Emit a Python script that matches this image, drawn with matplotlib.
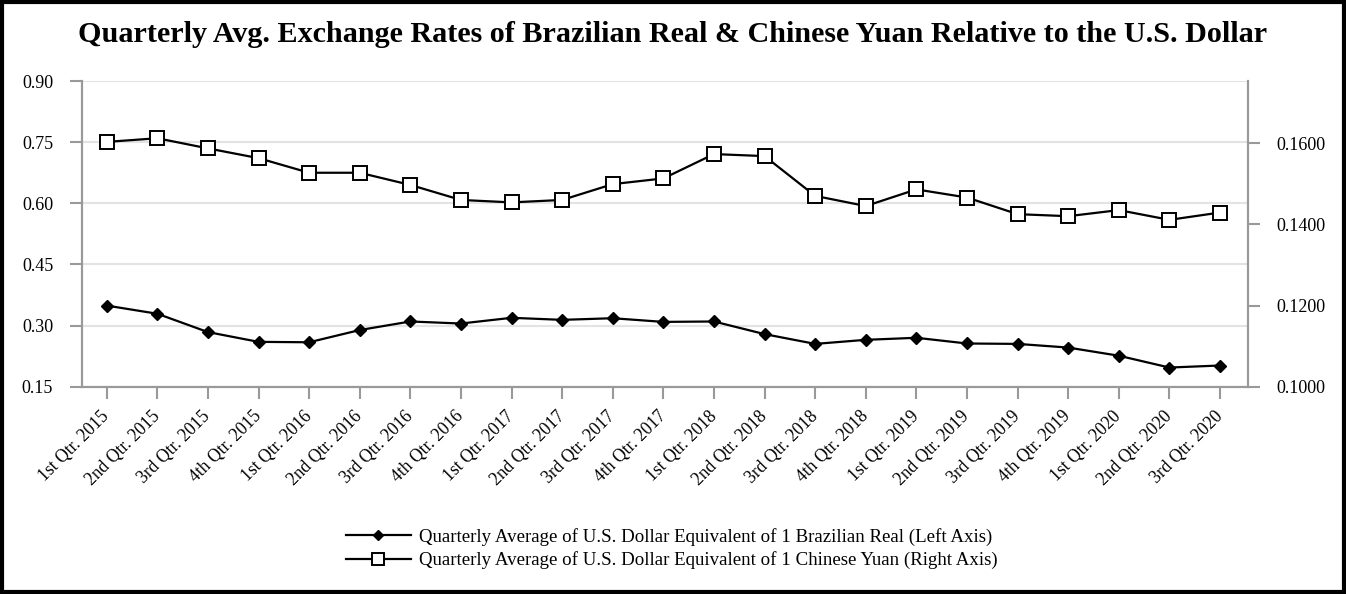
import matplotlib
matplotlib.use("Agg")
import matplotlib.pyplot as plt
from matplotlib.patches import Rectangle

quarters = ["1st Qtr. 2015", "2nd Qtr. 2015", "3rd Qtr. 2015", "4th Qtr. 2015",
            "1st Qtr. 2016", "2nd Qtr. 2016", "3rd Qtr. 2016", "4th Qtr. 2016",
            "1st Qtr. 2017", "2nd Qtr. 2017", "3rd Qtr. 2017", "4th Qtr. 2017",
            "1st Qtr. 2018", "2nd Qtr. 2018", "3rd Qtr. 2018", "4th Qtr. 2018",
            "1st Qtr. 2019", "2nd Qtr. 2019", "3rd Qtr. 2019", "4th Qtr. 2019",
            "1st Qtr. 2020", "2nd Qtr. 2020", "3rd Qtr. 2020"]
brl = [0.349, 0.329, 0.284, 0.260, 0.259, 0.289, 0.310, 0.305, 0.319, 0.314, 0.318, 0.309,
       0.310, 0.279, 0.255, 0.265, 0.270, 0.256, 0.255, 0.246, 0.226, 0.197, 0.202]
cny = [0.1603, 0.1612, 0.1587, 0.1563, 0.1527, 0.1527, 0.1497, 0.1460, 0.1454, 0.1460, 0.1499, 0.1513,
       0.1573, 0.1568, 0.1470, 0.1445, 0.1486, 0.1466, 0.1425, 0.1420, 0.1435, 0.1411, 0.1429]
left_ticks = [0.15, 0.30, 0.45, 0.60, 0.75, 0.90]
right_ticks = [0.10, 0.12, 0.14, 0.16]

title = "Quarterly Avg. Exchange Rates of Brazilian Real & Chinese Yuan Relative to the U.S. Dollar"
label_brl = "Quarterly Average of U.S. Dollar Equivalent of 1 Brazilian Real (Left Axis)"
label_cny = "Quarterly Average of U.S. Dollar Equivalent of 1 Chinese Yuan (Right Axis)"

plt.rcParams['font.family'] = ['Liberation Serif', 'DejaVu Serif']

W, H = 1346, 594
fig = plt.figure(figsize=(W / 100, H / 100), dpi=100)
ax = fig.add_axes([81.7 / W, 1 - 386.7 / H, (1247.7 - 81.7) / W, (386.7 - 81) / H])
ax2 = ax.twinx()

x = list(range(len(quarters)))
l1, = ax.plot(x, brl, color='black', lw=1.6, marker='D', markersize=6.5,
              markerfacecolor='black', markeredgecolor='black', label=label_brl)
l2, = ax2.plot(x, cny, color='black', lw=1.6, marker='s', markersize=10.5,
               markerfacecolor='white', markeredgecolor='black', markeredgewidth=1.4,
               label=label_cny)

ax.set_xlim(-0.494, len(quarters) - 1 + 0.547)
ax.set_ylim(0.15, 0.90)
ax2.set_ylim(0.10, 0.1753)
ax.set_yticks(left_ticks)
ax.set_yticklabels([f"{v:.2f}" for v in left_ticks])
ax2.set_yticks(right_ticks)
ax2.set_yticklabels([f"{v:.4f}" for v in right_ticks])
ax.set_xticks(x)
ax.set_xticklabels(quarters, rotation=45, ha='right', va='center', rotation_mode='anchor')

ax.grid(axis='y', color='#e3e3e3', lw=1.5)
ax.set_axisbelow(True)
gray = '#999999'
for a in (ax, ax2):
    a.spines['top'].set_visible(False)
    for s in ('left', 'right', 'bottom'):
        a.spines[s].set_color(gray)
        a.spines[s].set_linewidth(1.5)
    a.tick_params(colors=gray, width=1.5, length=8.5, labelcolor='black', labelsize=13)
ax.tick_params(axis='x', pad=11, labelsize=12.7)
ax.tick_params(axis='y', pad=12)
ax2.tick_params(axis='y', pad=12)

fig.text(0.5, 1 - 34 / H, title, ha='center', va='center', fontsize=21.7, fontweight='bold')

fig.legend(handles=[l1, l2], loc='center', bbox_to_anchor=(672 / W, 1 - 548.5 / H),
           frameon=False, fontsize=13.6, handlelength=3.4, handletextpad=0.45,
           labelspacing=0.3, markerscale=0.8)

fig.patches.append(Rectangle((0.0015, 0.0035), 0.997, 0.993, transform=fig.transFigure,
                             fill=False, edgecolor='black', lw=3))

fig.savefig("out.png", dpi=100)
